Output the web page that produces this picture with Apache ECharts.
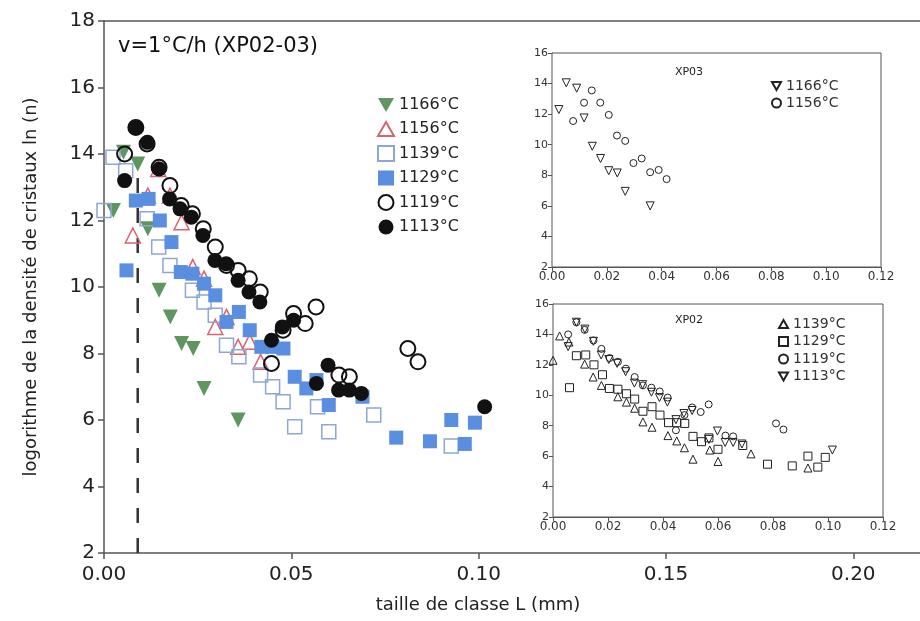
<!DOCTYPE html>
<html><head><meta charset="utf-8">
<script src="https://cdn.jsdelivr.net/npm/echarts@6/dist/echarts.min.js"></script>
<style>html,body{margin:0;padding:0;background:#fff}#c{width:920px;height:621px}</style>
</head><body><div id="c"></div>
<script>
// ---- data ----
const names = ['1166°C','1156°C','1139°C','1129°C','1119°C','1113°C'];
const x1166 = [0.0025,0.0052,0.0090,0.0117,0.0147,0.0177,0.0207,0.0238,0.0267,0.0358];
const y1166 = [12.3,14.05,13.7,11.75,9.9,9.1,8.3,8.15,6.95,6.0];
const x1156 = [0.0077,0.0117,0.0145,0.0176,0.0207,0.0237,0.0267,0.0297,0.0327,0.0358,0.0389,0.0418];
const y1156 = [11.55,12.75,13.55,12.75,11.95,10.6,10.25,8.8,9.1,8.2,8.35,7.75];
const x1139 = [0.0,0.0024,0.0058,0.0115,0.0146,0.0176,0.0236,0.0267,0.0297,0.0327,0.0360,0.0418,0.0450,0.0478,0.0509,0.0570,0.0600,0.0720,0.0927];
const y1139 = [12.3,13.9,13.5,12.05,11.2,10.65,9.9,9.55,9.15,8.25,7.9,7.35,7.0,6.55,5.8,6.4,5.65,6.15,5.22];
const x1129 = [0.0060,0.0085,0.0119,0.0149,0.0180,0.0205,0.0236,0.0267,0.0297,0.0327,0.0360,0.0389,0.0420,0.0450,0.0479,0.0509,0.0540,0.0567,0.0600,0.0690,0.0780,0.0870,0.0927,0.0963,0.0990];
const y1129 = [10.5,12.6,12.65,12.0,11.35,10.45,10.4,10.1,9.75,8.95,9.25,8.7,8.2,8.2,8.15,7.3,6.95,7.2,6.45,6.7,5.47,5.36,6.0,5.28,5.92];
const x1119 = [0.0055,0.0085,0.0115,0.0147,0.0176,0.0206,0.0236,0.0265,0.0297,0.0327,0.0358,0.0388,0.0417,0.0447,0.0478,0.0506,0.0537,0.0566,0.0627,0.0655,0.0811,0.0838];
const y1119 = [14.0,14.8,14.3,13.6,13.05,12.45,12.2,11.75,11.2,10.65,10.5,10.25,9.85,7.7,8.7,9.2,8.9,9.4,7.35,7.3,8.15,7.75];
const x1113 = [0.0055,0.0085,0.0116,0.0147,0.0175,0.0203,0.0233,0.0264,0.0296,0.0326,0.0358,0.0387,0.0416,0.0447,0.0476,0.0506,0.0567,0.0598,0.0626,0.0655,0.0687,0.1016];
const y1113 = [13.2,14.8,14.35,13.55,12.65,12.35,12.1,11.55,10.8,10.7,10.2,9.85,9.55,8.4,8.8,9.0,7.1,7.65,6.9,6.9,6.8,6.4];
const cutX = 0.009, cutTop = 13.5, cutBottom = 2;
const mainXTicks = [0, 0.05, 0.10, 0.15, 0.20];

const zip = (xs, ys) => xs.map((x, i) => [x, ys[i]]);
const FONT = 'DejaVu Sans';
const DOWN = 'path://M0,0L10,0L5,8.7Z';
const UP = 'path://M5,0L10,8.7L0,8.7Z';

const mainStyles = [
  {symbol:'triangle', rotate:180, size:15, icon:DOWN, itemStyle:{color:'#5f9660', opacity:1}},
  {symbol:'triangle', rotate:0, size:15, icon:UP, itemStyle:{color:'rgba(255,255,255,0)', borderColor:'#d9646e', borderWidth:1.5, opacity:1}},
  {symbol:'rect', rotate:0, size:14, icon:'rect', itemStyle:{color:'rgba(255,255,255,0)', borderColor:'#8ea6d4', borderWidth:1.5, opacity:1}},
  {symbol:'rect', rotate:0, size:14, icon:'rect', itemStyle:{color:'#5a8ee0', opacity:1}},
  {symbol:'circle', rotate:0, size:15, icon:'circle', itemStyle:{color:'rgba(255,255,255,0)', borderColor:'#111', borderWidth:2, opacity:1}},
  {symbol:'circle', rotate:0, size:15, icon:'circle', itemStyle:{color:'#111', opacity:1}}
];
const dataSets = [zip(x1166,y1166), zip(x1156,y1156), zip(x1139,y1139), zip(x1129,y1129), zip(x1119,y1119), zip(x1113,y1113)];

const series = [];
series.push({type:'line', xAxisIndex:0, yAxisIndex:0, data:[[cutX,cutBottom],[cutX,cutTop]], symbol:'none', silent:true,
  lineStyle:{color:'#333', width:2.5, type:[15,15]}, z:1});
names.forEach((n, i) => {
  const s = mainStyles[i];
  series.push({name:n, type:'scatter', xAxisIndex:0, yAxisIndex:0, data:dataSets[i], symbol:s.symbol, symbolRotate:s.rotate, symbolSize:s.size, itemStyle:s.itemStyle, z:2+i});
});
// insets
const inHollow = {color:'rgba(255,255,255,0)', borderColor:'#222', borderWidth:1, opacity:1};
const inset1 = [['XP03 1166°C', 0, 'triangle', 180, DOWN], ['XP03 1156°C', 1, 'circle', 0, 'circle']];
const inset2 = [['XP02 1139°C', 2, 'triangle', 0, UP], ['XP02 1129°C', 3, 'rect', 0, 'rect'], ['XP02 1119°C', 4, 'circle', 0, 'circle'], ['XP02 1113°C', 5, 'triangle', 180, DOWN]];
inset1.forEach(([n, k, sym, rot]) => series.push({name:n, type:'scatter', xAxisIndex:2, yAxisIndex:1, data:dataSets[k], symbol:sym, symbolRotate:rot, symbolSize:sym==='circle'?7:8, itemStyle:inHollow, z:10}));
inset2.forEach(([n, k, sym, rot]) => series.push({name:n, type:'scatter', xAxisIndex:3, yAxisIndex:2, data:dataSets[k], symbol:sym, symbolRotate:rot, symbolSize:sym==='circle'?7:8, itemStyle:inHollow, z:10}));

const axisCol = '#555';
const insetX = (gi) => ({type:'value', gridIndex:gi, min:0, max:0.12, interval:0.02,
  axisLine:{show:true, onZero:false, lineStyle:{color:axisCol, width:1}},
  axisTick:{show:true, inside:false, length:4, lineStyle:{color:axisCol}},
  axisLabel:{fontFamily:FONT, fontSize:12, color:'#333', margin:4, formatter:v=>v.toFixed(2)},
  splitLine:{show:false}});
const insetY = (gi) => ({type:'value', gridIndex:gi, min:2, max:16, interval:2,
  axisLine:{show:true, onZero:false, lineStyle:{color:axisCol, width:1}},
  axisTick:{show:true, inside:false, length:4, lineStyle:{color:axisCol}},
  axisLabel:{fontFamily:FONT, fontSize:11, color:'#333', margin:4},
  splitLine:{show:false}});

const option = {
  animation:false,
  backgroundColor:'#fff',
  grid:[
    {left:104, right:0, top:21, bottom:68},
    {left:552, right:39, top:53, bottom:354, show:true, backgroundColor:'#fff', borderColor:axisCol, borderWidth:1, z:5},
    {left:553, right:37, top:304, bottom:104, show:true, backgroundColor:'#fff', borderColor:axisCol, borderWidth:1, z:5}
  ],
  xAxis:[
    {type:'value', gridIndex:0, min:0, max:0.2178,
      axisLine:{show:true, onZero:false, lineStyle:{color:axisCol, width:1.5}},
      axisTick:{show:true, length:6, customValues:mainXTicks, lineStyle:{color:axisCol, width:1.5}},
      axisLabel:{fontFamily:FONT, fontSize:20, color:'#222', margin:12, customValues:mainXTicks, formatter:v=>v.toFixed(2)},
      splitLine:{show:false}},
    {type:'value', gridIndex:0, position:'top', min:0, max:0.2178,
      axisLine:{show:true, onZero:false, lineStyle:{color:axisCol, width:1.5}},
      axisTick:{show:false}, axisLabel:{show:false}, splitLine:{show:false}},
    insetX(1), insetX(2)
  ],
  yAxis:[
    {type:'value', gridIndex:0, min:2, max:18, interval:2,
      name:'logorithme de la densité de cristaux ln (n)', nameLocation:'middle', nameGap:64,
      nameTextStyle:{fontFamily:FONT, fontSize:18, color:'#222'},
      axisLine:{show:true, onZero:false, lineStyle:{color:axisCol, width:1.5}},
      axisTick:{show:true, length:6, lineStyle:{color:axisCol, width:1.5}},
      axisLabel:{fontFamily:FONT, fontSize:20, color:'#222', margin:9},
      splitLine:{show:false}},
    insetY(1), insetY(2)
  ],
  legend:[
    {data:names.map((n,i)=>({name:n, icon:mainStyles[i].icon})), orient:'vertical', left:372, top:92, itemWidth:16, itemHeight:15, itemGap:8, selectedMode:false, z:10,
      textStyle:{fontFamily:FONT, fontSize:16, color:'#222'}},
    {data:inset1.map(d=>({name:d[0], icon:d[4]})), orient:'vertical', left:766, top:74, itemWidth:9, itemHeight:9, itemGap:3, selectedMode:false, z:10,
      formatter:n=>n.replace(/^XP0\d /,''), textStyle:{fontFamily:FONT, fontSize:14, color:'#333'}},
    {data:inset2.map(d=>({name:d[0], icon:d[4]})), orient:'vertical', left:773, top:312, itemWidth:9, itemHeight:9, itemGap:3.5, selectedMode:false, z:10,
      formatter:n=>n.replace(/^XP0\d /,''), textStyle:{fontFamily:FONT, fontSize:14, color:'#333'}}
  ],
  graphic:[
    {type:'text', left:118, top:36, style:{text:'v=1°C/h (XP02-03)', font:'21px "DejaVu Sans"', fill:'#111'}},
    {type:'text', x:478, y:605, style:{text:'taille de classe L (mm)', font:'18px "DejaVu Sans"', fill:'#222', align:'center', verticalAlign:'middle'}},
    {type:'text', x:689, y:72, z:20, style:{text:'XP03', font:'11px "DejaVu Sans"', fill:'#222', align:'center', verticalAlign:'middle'}},
    {type:'text', x:689, y:320, z:20, style:{text:'XP02', font:'11px "DejaVu Sans"', fill:'#222', align:'center', verticalAlign:'middle'}}
  ],
  series:series
};
const chart = echarts.init(document.getElementById('c'), null, {renderer:'canvas'});
chart.setOption(option);
</script></body></html>
